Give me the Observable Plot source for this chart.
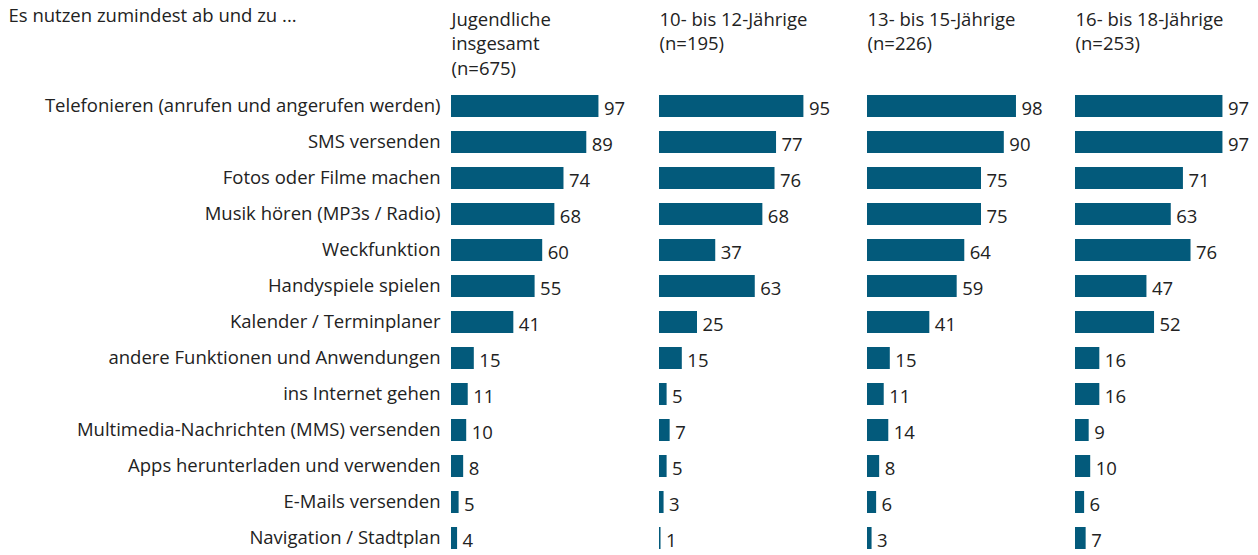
<!DOCTYPE html>
<html><head><meta charset="utf-8">
<script src="https://cdn.jsdelivr.net/npm/d3@7"></script>
<script src="https://cdn.jsdelivr.net/npm/@observablehq/plot@0.6"></script>
<style>body{margin:0;background:#fff}</style>
</head><body><div id="chart"></div>
<script>
const title = "Es nutzen zumindest ab und zu ...";
const categories = [
  "Telefonieren (anrufen und angerufen werden)",
  "SMS versenden",
  "Fotos oder Filme machen",
  "Musik hören (MP3s / Radio)",
  "Weckfunktion",
  "Handyspiele spielen",
  "Kalender / Terminplaner",
  "andere Funktionen und Anwendungen",
  "ins Internet gehen",
  "Multimedia-Nachrichten (MMS) versenden",
  "Apps herunterladen und verwenden",
  "E-Mails versenden",
  "Navigation / Stadtplan"
];
const panels = ["gesamt", "10-12", "13-15", "16-18"];
const headers = [
  "Jugendliche\ninsgesamt\n(n=675)",
  "10- bis 12-Jährige\n(n=195)",
  "13- bis 15-Jährige\n(n=226)",
  "16- bis 18-Jährige\n(n=253)"
];
const valuesTotal = [97, 89, 74, 68, 60, 55, 41, 15, 11, 10, 8, 5, 4];
const values10to12 = [95, 77, 76, 68, 37, 63, 25, 15, 5, 7, 5, 3, 1];
const values13to15 = [98, 90, 75, 75, 64, 59, 41, 15, 11, 14, 8, 6, 3];
const values16to18 = [97, 97, 71, 63, 76, 47, 52, 16, 16, 9, 10, 6, 7];

const series = [valuesTotal, values10to12, values13to15, values16to18];
const rows = [];
panels.forEach((p, i) => categories.forEach((c, j) => rows.push({panel: p, category: c, value: series[i][j]})));
const headerRows = panels.map((p, i) => ({panel: p, text: headers[i]}));

const chart = Plot.plot({
  width: 1258, height: 555,
  marginLeft: 450, marginRight: 31, marginTop: 91, marginBottom: 2,
  style: {fontFamily: "Open Sans", fontSize: "18.5px", color: "#222", background: "#fff"},
  fx: {domain: panels, paddingInner: 0.27, paddingOuter: 0, axis: null},
  x: {domain: [0, 100], axis: null},
  y: {domain: categories, paddingInner: 0.38, paddingOuter: 0.1, label: null, tickSize: 0, tickPadding: 11},
  marks: [
    Plot.barX(rows, {fx: "panel", y: "category", x: "value", fill: "#035a7b"}),
    Plot.text(rows, {fx: "panel", y: "category", x: "value", text: d => String(d.value), textAnchor: "start", dx: 5, dy: 3, fill: "#222"}),
    Plot.text(headerRows, {fx: "panel", text: "text", frameAnchor: "top-left", textAnchor: "start", lineAnchor: "top", dy: -83, lineHeight: 1.32, fill: "#222"}),
    Plot.text([{panel: panels[0], text: title}], {fx: "panel", text: "text", frameAnchor: "top-left", textAnchor: "start", lineAnchor: "top", dx: -443, dy: -83, fill: "#222"})
  ]
});
document.getElementById("chart").append(chart);
</script>
</body></html>
